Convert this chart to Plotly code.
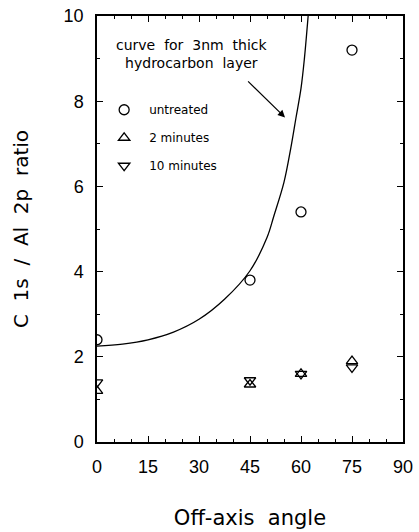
import plotly.graph_objects as go

# Data
angles = [0, 45, 60, 75]
untreated = [2.4, 3.8, 5.4, 9.2]
two_min = [1.2, 1.35, 1.6, 1.9]
ten_min = [1.4, 1.45, 1.6, 1.75]

curve_x = [0, 7.5, 15, 22.5, 30, 37.5, 45, 50, 52, 55, 57, 58.5, 60, 61, 62.1]
curve_y = [2.25, 2.3, 2.4, 2.58, 2.88, 3.35, 4.02, 4.8, 5.3, 6.1, 6.9, 7.6, 8.3, 9.0, 10.0]

x_ticks = [0, 15, 30, 45, 60, 75, 90]
y_ticks = [0, 2, 4, 6, 8, 10]

FONT = "Liberation Sans"
WFONT = "DejaVu Sans"
NB = "\u00a0"

fig = go.Figure()

fig.add_trace(go.Scatter(
    x=curve_x, y=curve_y, mode="lines", line=dict(color="black", width=1.3, shape="spline"),
    showlegend=False, hoverinfo="skip"))

mk = dict(size=10, color="black", line=dict(color="black", width=1.3))
fig.add_trace(go.Scatter(x=angles, y=untreated, mode="markers", name="untreated",
                         marker=dict(symbol="circle-open", **mk), legendgroup="a"))
fig.add_trace(go.Scatter(x=angles, y=two_min, mode="markers", name="2 minutes",
                         marker=dict(symbol="triangle-up-open", **mk), legendgroup="b"))
fig.add_trace(go.Scatter(x=angles, y=ten_min, mode="markers", name="10 minutes",
                         marker=dict(symbol="triangle-down-open", **mk), legendgroup="c"))

axis_common = dict(
    showgrid=False, zeroline=False, showline=True, linecolor="black", linewidth=1.5,
    mirror="ticks", ticks="inside", ticklen=6, tickwidth=1.2, tickcolor="black",
    tickfont=dict(family=FONT, size=18, color="black"), automargin=False,
)

fig.update_layout(
    width=419, height=532,
    margin=dict(l=97, r=16, t=16, b=90),
    paper_bgcolor="white", plot_bgcolor="white",
    xaxis=dict(range=[0, 90], tickvals=x_ticks, ticklabelstandoff=8,
               minor=dict(dtick=5, ticks="inside", ticklen=3, tickcolor="black"),
               title=dict(text="Off-axis" + NB + NB + "angle",
                          font=dict(family=WFONT, size=21, color="black"), standoff=34),
               **axis_common),
    yaxis=dict(range=[0, 10], tickvals=y_ticks, ticklabelstandoff=8,
               minor=dict(dtick=1, ticks="inside", ticklen=3, tickcolor="black"),
               title=dict(text="C" + NB + NB + "1s" + NB + NB + "/" + NB + NB + "Al" + NB + NB + "2p" + NB + NB + "ratio",
                          font=dict(family=WFONT, size=20, color="black"), standoff=30),
               **axis_common),
    legend=dict(x=0.007, y=0.814, xanchor="left", yanchor="top", bgcolor="rgba(0,0,0,0)",
                font=dict(family=WFONT, size=12, color="black"), tracegroupgap=9,
                itemwidth=40),
    showlegend=True,
)

fig.add_annotation(x=0.31, y=0.91, xref="paper", yref="paper", showarrow=False,
                   xanchor="center", yanchor="middle",
                   text="curve" + NB + " for" + NB + " 3nm" + NB + " thick<br>hydrocarbon" + NB + " layer",
                   font=dict(family=WFONT, size=14, color="black"), align="center")
fig.add_annotation(x=55.3, y=7.62, ax=44.0, ay=8.5, xref="x", yref="y", axref="x", ayref="y",
                   text="", showarrow=True, arrowhead=2, arrowsize=1.2, arrowwidth=1.2, arrowcolor="black")

fig.write_html("out.html")
